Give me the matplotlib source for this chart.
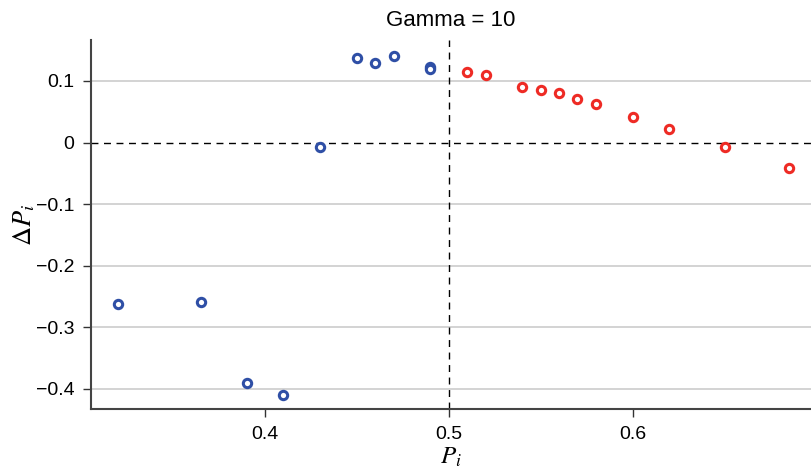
import matplotlib
matplotlib.use("Agg")
import matplotlib.pyplot as plt

plt.rcParams["mathtext.fontset"] = "stix"
tick_font = "Liberation Sans"

# Data
blue_x = [0.320, 0.365, 0.390, 0.410, 0.430, 0.450, 0.460, 0.470, 0.490, 0.490]
blue_y = [-0.263, -0.259, -0.390, -0.411, -0.008, 0.138, 0.129, 0.140, 0.123, 0.119]
red_x = [0.510, 0.520, 0.540, 0.550, 0.560, 0.570, 0.580, 0.600, 0.620, 0.650, 0.685]
red_y = [0.115, 0.110, 0.090, 0.085, 0.081, 0.070, 0.062, 0.042, 0.022, -0.008, -0.042]
x_ticks = [0.4, 0.5, 0.6]
y_ticks = [0.1, 0.0, -0.1, -0.2, -0.3, -0.4]
x_tick_labels = ["0.4", "0.5", "0.6"]
y_tick_labels = ["0.1", "0", "\u22120.1", "\u22120.2", "\u22120.3", "\u22120.4"]

fig = plt.figure(figsize=(8.11, 4.73), dpi=100)
ax = fig.add_axes([91/811, 1 - 409/473, 1 - 91/811, (409 - 40)/473])

for y in y_ticks:
    if y != 0:
        ax.axhline(y, color="#cccccc", lw=1.2, zorder=0)
ax.axhline(0, color="black", lw=1.0, ls=(0, (5, 4)), zorder=1)
ax.axvline(0.5, color="black", lw=1.0, ls=(0, (5, 4)), zorder=1)

ax.scatter(blue_x, blue_y, s=36, facecolors="white", edgecolors="#2f4fa6",
           linewidths=2.2, zorder=3)
ax.scatter(red_x, red_y, s=36, facecolors="white", edgecolors="#ee2b25",
           linewidths=2.2, zorder=3)

ax.set_xlim(0.3054, 0.697)
ax.set_ylim(-0.433, 0.1666)

ax.set_xticks(x_ticks)
ax.set_xticklabels(x_tick_labels, fontfamily=tick_font, fontsize=14)
ax.set_yticks(y_ticks)
ax.set_yticklabels(y_tick_labels, fontfamily=tick_font, fontsize=14)
ax.tick_params(axis="both", length=6, width=1, color="#333333", pad=6)

for s in ["top", "right"]:
    ax.spines[s].set_visible(False)
for s in ["left", "bottom"]:
    ax.spines[s].set_color("#444444")
    ax.spines[s].set_linewidth(1.5)

ax.set_xlabel(r"$P_i$", fontsize=18, labelpad=2)
ax.set_ylabel(r"$\Delta P_i$", fontsize=19, labelpad=-1)
ax.set_title("Gamma = 10", fontfamily=tick_font, fontsize=16, pad=10)

fig.savefig("out.png", dpi=100)
